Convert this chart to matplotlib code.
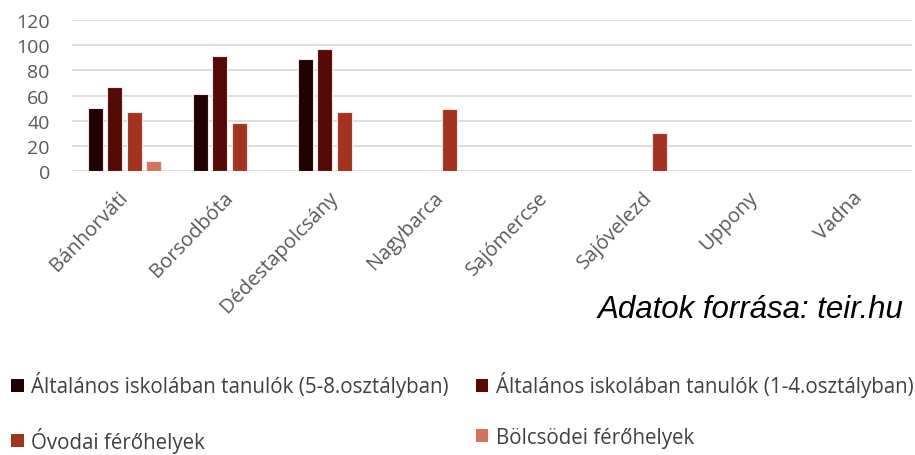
import matplotlib
matplotlib.use("Agg")
import matplotlib.pyplot as plt
import matplotlib.transforms as mtransforms
import numpy as np

categories = ["Bánhorváti", "Borsodbóta", "Dédestapolcsány", "Nagybarca",
              "Sajómercse", "Sajóvelezd", "Uppony", "Vadna"]
series_names = ["Általános iskolában tanulók (5-8.osztályban)",
                "Általános iskolában tanulók (1-4.osztályban)",
                "Óvodai férőhelyek",
                "Bölcsödei férőhelyek"]
alt_5_8 = [50, 61, 89, 0, 0, 0, 0, 0]
alt_1_4 = [67, 91, 97, 0, 0, 0, 0, 0]
ovoda = [47, 38, 47, 49, 0, 30, 0, 0]
bolcsode = [8, 0, 0, 0, 0, 0, 0, 0]
colors = ["#200000", "#560a05", "#a3321f", "#d2755c"]
yticks = [0, 20, 40, 60, 80, 100, 120]

plt.rcParams['font.family'] = ['Open Sans', 'DejaVu Sans']

fig = plt.figure(figsize=(9.15, 4.56), dpi=100)
ax = fig.add_axes([72/915, 1-172/456, 840/915, 151/456])

x = np.arange(len(categories))
step = 0.186
width = 0.14
all_series = [alt_5_8, alt_1_4, ovoda, bolcsode]
handles = []
for i, (vals, c) in enumerate(zip(all_series, colors)):
    off = (i - 1.5) * step
    xs = [xi + off for xi, v in zip(x, vals) if v > 0]
    vs = [v for v in vals if v > 0]
    h = ax.bar(xs, vs, width=width, color=c, edgecolor="#f2e6e4", linewidth=0.8,
               label=series_names[i], zorder=3)
    handles.append(h)

ax.set_xlim(-0.5, len(categories) - 0.5)
ax.set_ylim(0, 120)
ax.set_yticks(yticks)
ax.grid(axis='y', color='#d9d9d9', linewidth=1.2, zorder=0)
for s in ax.spines.values():
    s.set_visible(False)
ax.tick_params(axis='both', length=0, colors='#595959', labelsize=14)
ax.tick_params(axis='y', pad=16)
ax.set_xticks(x)
ax.set_xticklabels(categories, rotation=46, ha='right', rotation_mode='anchor',
                   fontsize=14.5, color='#595959')
offset = mtransforms.ScaledTranslation(-7/100, -11/100, fig.dpi_scale_trans)
for lab in ax.get_xticklabels():
    lab.set_transform(lab.get_transform() + offset)

fig.text(903/915, 1-318/456, "Adatok forrása: teir.hu", ha='right', va='baseline',
         fontsize=22.5, style='italic', family='Liberation Sans', color='#000000')

order = [0, 2, 1, 3]
leg = fig.legend([handles[k] for k in order], [series_names[k] for k in order],
                 ncol=2, loc='upper left',
                 bbox_to_anchor=(1/915, 1-362/456), frameon=False,
                 fontsize=14.8, handlelength=0.6, handleheight=0.6,
                 handletextpad=0.38, columnspacing=1.3, labelspacing=1.45,
                 borderpad=0, labelcolor='#404040')
for h in leg.legend_handles:
    h.set_edgecolor('none')

fig.savefig("out.png", dpi=100)
